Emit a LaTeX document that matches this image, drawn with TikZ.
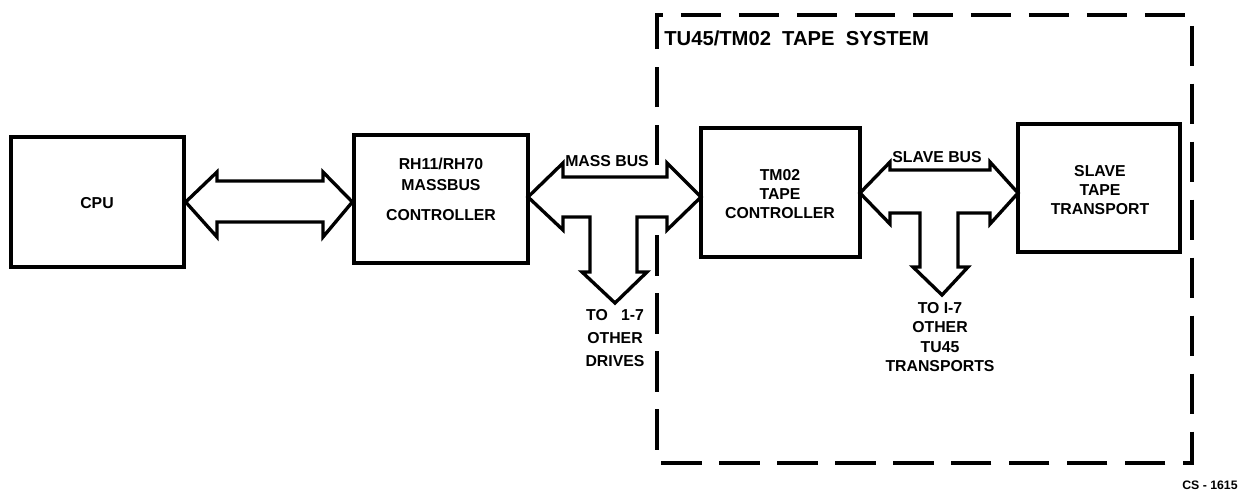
\documentclass[tikz,border=0pt]{standalone}
\usepackage{fontspec}
\setmainfont{Liberation Sans}
\usetikzlibrary{fit}
\tikzset{
  box/.style={draw=black, line width=1.9pt, inner sep=0pt, fill=none},
  lbl/.style={font=\bfseries\fontsize{9}{11}\selectfont, align=center, inner sep=0pt},
  bus/.style={draw=black, line width=1.9pt, fill=white, line join=miter},
  sysframe/.style={draw=black, line width=2.3pt, dash pattern=on 23pt off 10pt},
}
\begin{document}
\begin{tikzpicture}[x=0.02cm,y=-0.02cm]
\useasboundingbox (0,0) rectangle (1243,495);
% dashed system frame
\draw[sysframe] (657,165) -- (657,15) -- (1192,15) -- (1192,463) -- (657,463) -- (657,222);
\node[anchor=west, font=\bfseries\fontsize{11.5}{13}\selectfont, inner sep=0pt] (title) at (664,38) {TU45/TM02\ \ TAPE\ \ SYSTEM};
% boxes
\node[box, fit={(11,137) (184,267)}] (cpu) {};
\node[box, fit={(354,135) (528,263)}] (rh) {};
\node[box, fit={(701,128) (860,257)}] (tm) {};
\node[box, fit={(1018,124) (1180,252)}] (st) {};
% box texts
\node[lbl] (cput) at (97,203) {CPU};
\node[lbl] (rht) at (441,189) {RH11/RH70\\[1pt]MASSBUS\\[6pt]CONTROLLER};
\node[lbl] (tmt) at (780,194) {TM02\\TAPE\\CONTROLLER};
\node[lbl] (stt) at (1100,190) {SLAVE\\TAPE\\TRANSPORT};
% CPU <-> RH bus
\draw[bus] (cpu.east) -- (217,172) -- (217,181) -- (323,181) -- (323,172) -- (rh.west |- cpu.east)
  -- (323,237) -- (323,222) -- (217,222) -- (217,237) -- cycle;
% MASSBUS
\draw[bus] (528,197) -- (563,163) -- (563,177) -- (667,177) -- (667,163) -- (701,197)
  -- (667,230) -- (667,217) -- (637,217) -- (637,272) -- (647,272) -- (615,303)
  -- (582,272) -- (590,272) -- (590,217) -- (563,217) -- (563,230) -- cycle;
\node[lbl] (mb) at (607,161) {MASS BUS};
\node[lbl] (mbd) at (615,338) {TO\ \ \ 1-7\\[2pt]OTHER\\[2pt]DRIVES};
% SLAVE BUS
\draw[bus] (860,193) -- (890,162) -- (890,170) -- (990,170) -- (990,162) -- (1018,193)
  -- (990,224) -- (990,213) -- (958,213) -- (958,267) -- (968,267) -- (942,295)
  -- (913,267) -- (920,267) -- (920,213) -- (890,213) -- (890,224) -- cycle;
\node[lbl] (sb) at (937,157) {SLAVE BUS};
\node[lbl] (sbd) at (940,337) {TO I-7\\OTHER\\TU45\\TRANSPORTS};
% reference number
\node[anchor=east, font=\bfseries\fontsize{7}{8}\selectfont, inner sep=0pt] (cs) at (1238,485) {CS - 1615};
\end{tikzpicture}
\end{document}
